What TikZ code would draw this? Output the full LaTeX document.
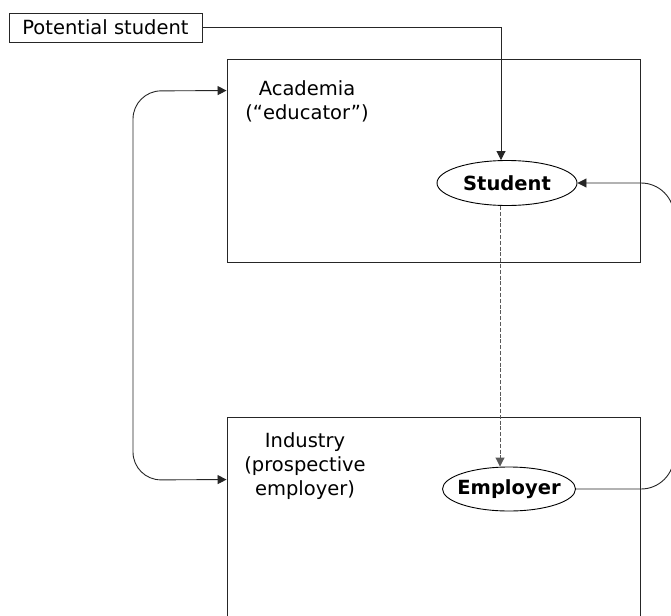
\documentclass[tikz,border=0pt]{standalone}
\usepackage{fontspec}
\setmainfont{DejaVu Sans}
\usetikzlibrary{arrows.meta,shapes.geometric,calc}
\begin{document}
\begin{tikzpicture}[x=1pt,y=-1pt,
  txt/.style={font=\fontsize{19.5}{24}\selectfont},
  frame/.style={draw=black!85,line width=0.9pt,inner sep=0pt},
  role/.style={ellipse,draw=black,line width=0.9pt,inner xsep=-6pt,inner ysep=0pt,
    font=\fontsize{19.5}{24}\selectfont\bfseries},
  tip/.tip={Triangle[length=9pt,width=9pt]},
  link/.style={draw=black!85,line width=0.9pt,-tip},
  flow/.style={draw=black!65,line width=0.9pt,dash pattern=on 4pt off 1.8pt,-tip}
]
\clip (0,0) rectangle (671,615);
\fill[white] (0,0) rectangle (671,615);

% organisations
\node[frame,minimum width=413pt,minimum height=203pt] (acad) at (433.5,160.5) {};
\node[frame,minimum width=413pt,minimum height=220pt] (ind) at (433.5,527) {};
\node[txt,align=center] (acadlbl) at (307,101) {Academia\\(“educator”)};
\node[txt,align=center] (indlbl) at (305,466) {Industry\\(prospective\\employer)};

% people
\node[frame,txt,minimum width=193pt,minimum height=29pt] (ps) at (105.5,27.5) {Potential student};
\node[role,minimum width=140pt,minimum height=45pt] (stu) at (507,183) {Student};
\node[role,minimum width=133pt,minimum height=44pt] (emp) at (509,489) {Employer};

% connectors
\draw[link] (ps.east) -| ($(stu.north)+(-6,0)$);
\draw[flow] ($(stu.south)+(-7,0)$) -- ($(emp.north)+(-9,0)$);
\coordinate (rtop) at (674,183);
\coordinate (rbot) at (674,489);
\draw[link,rounded corners=33pt] (emp.east) -- (rbot) -- (rtop) -- (stu.east);

\coordinate (ain) at ($(acad.north west)+(0,32)$);
\coordinate (iin) at ($(ind.north west)+(0,63)$);
\coordinate (ltop) at (133,91);
\coordinate (lbot) at (133,480);
\draw[link,tip-tip,rounded corners=28pt] (ain) -- (ltop) -- (lbot) -- (iin);
\end{tikzpicture}
\end{document}
